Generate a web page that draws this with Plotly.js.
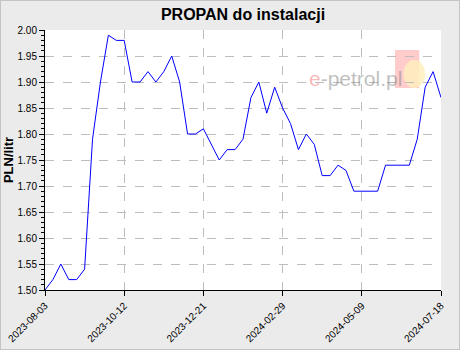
<!DOCTYPE html>
<html>
<head>
<meta charset="utf-8">
<script src="https://cdn.plot.ly/plotly-3.0.1.min.js"></script>
<style>
html,body{margin:0;padding:0;background:#ebebeb;}
#chart{width:458px;height:348px;border:1px solid #c4c4c4;}
</style>
</head>
<body>
<div id="chart"></div>
<script>
// Weekly price of LPG (PROPAN) starting 2023-08-03
const startDate = "2023-08-03";
const prices = [
  1.50, 1.52, 1.55, 1.52, 1.52, 1.54, 1.79, 1.90, 1.99, 1.98,
  1.98, 1.90, 1.90, 1.92, 1.90, 1.92, 1.95, 1.90, 1.80, 1.80,
  1.81, 1.78, 1.75, 1.77, 1.77, 1.79, 1.87, 1.90, 1.84, 1.89,
  1.85, 1.82, 1.77, 1.80, 1.78, 1.72, 1.72, 1.74, 1.73, 1.69,
  1.69, 1.69, 1.69, 1.74, 1.74, 1.74, 1.74, 1.79, 1.89, 1.92,
  1.87
];
const tickDates = ["2023-08-03", "2023-10-12", "2023-12-21", "2024-02-29", "2024-05-09", "2024-07-18"];
const yTicks = [1.50, 1.55, 1.60, 1.65, 1.70, 1.75, 1.80, 1.85, 1.90, 1.95, 2.00];
const yTickLabels = yTicks.map(v => v.toFixed(2));

function addDays(iso, n) {
  const d = new Date(iso + "T00:00:00Z");
  d.setUTCDate(d.getUTCDate() + n);
  return d.toISOString().slice(0, 10);
}
const dates = prices.map((_, i) => addDays(startDate, 7 * i));

const trace = {
  x: dates, y: prices, type: "scatter", mode: "lines",
  line: {color: "#0000ff", width: 1}, hoverinfo: "skip"
};

const layout = {
  width: 458, height: 348,
  margin: {l: 44, r: 18, t: 29, b: 59},
  paper_bgcolor: "#ebebeb", plot_bgcolor: "#ffffff",
  font: {family: "Liberation Sans, Arial, sans-serif", size: 10, color: "#000"},
  title: {
    text: "<b>PROPAN do instalacji</b>",
    font: {family: "Liberation Sans, Arial, sans-serif", size: 16, color: "#000"},
    x: 0.5, xanchor: "center", xref: "paper",
    y: 1 - 13 / 348, yanchor: "middle", yref: "container"
  },
  showlegend: false,
  xaxis: {
    type: "date",
    range: [dates[0], dates[dates.length - 1]],
    tickmode: "array", tickvals: tickDates, ticktext: tickDates,
    tickangle: -45, ticks: "outside", ticklen: 5, tickcolor: "#000",
    showline: true, linecolor: "#000", linewidth: 1, mirror: false,
    showgrid: true, gridcolor: "#bdbdbd", griddash: "dash", gridwidth: 1,
    zeroline: false, tickfont: {size: 10}
  },
  yaxis: {
    range: [1.50, 2.00],
    tickmode: "array", tickvals: yTicks, ticktext: yTickLabels,
    ticks: "outside", ticklen: 5, tickcolor: "#000",
    minor: {dtick: 0.01, tick0: 1.5, ticks: "outside", ticklen: 3, tickcolor: "#000", showgrid: false},
    showline: true, linecolor: "#000", linewidth: 1,
    showgrid: true, gridcolor: "#bdbdbd", griddash: "dash", gridwidth: 1,
    zeroline: false, tickfont: {size: 10},
    title: {text: "<b>PLN/litr</b>", font: {size: 13}, standoff: 5}
  },
  shapes: [
    {type: "rect", xref: "paper", yref: "paper", x0: 0.884, x1: 0.945, y0: 0.777, y1: 0.923,
     fillcolor: "rgba(255,140,140,0.45)", line: {width: 0}, layer: "below"},
    {type: "circle", xref: "paper", yref: "paper", x0: 0.905, x1: 0.96, y0: 0.777, y1: 0.885,
     fillcolor: "rgba(255,238,190,0.85)", line: {width: 0}, layer: "below"}
  ],
  annotations: [
    {xref: "paper", yref: "paper", x: 0.785, y: 0.815, xanchor: "center", yanchor: "middle",
     text: "<span style='color:rgba(245,140,140,0.6)'>e</span><span style='color:rgba(130,130,130,0.5)'>-petrol.pl</span>",
     showarrow: false, font: {family: "Liberation Sans, Arial, sans-serif", size: 21}}
  ]
};

Plotly.newPlot("chart", [trace], layout, {displayModeBar: false, staticPlot: true});
</script>
</body>
</html>
